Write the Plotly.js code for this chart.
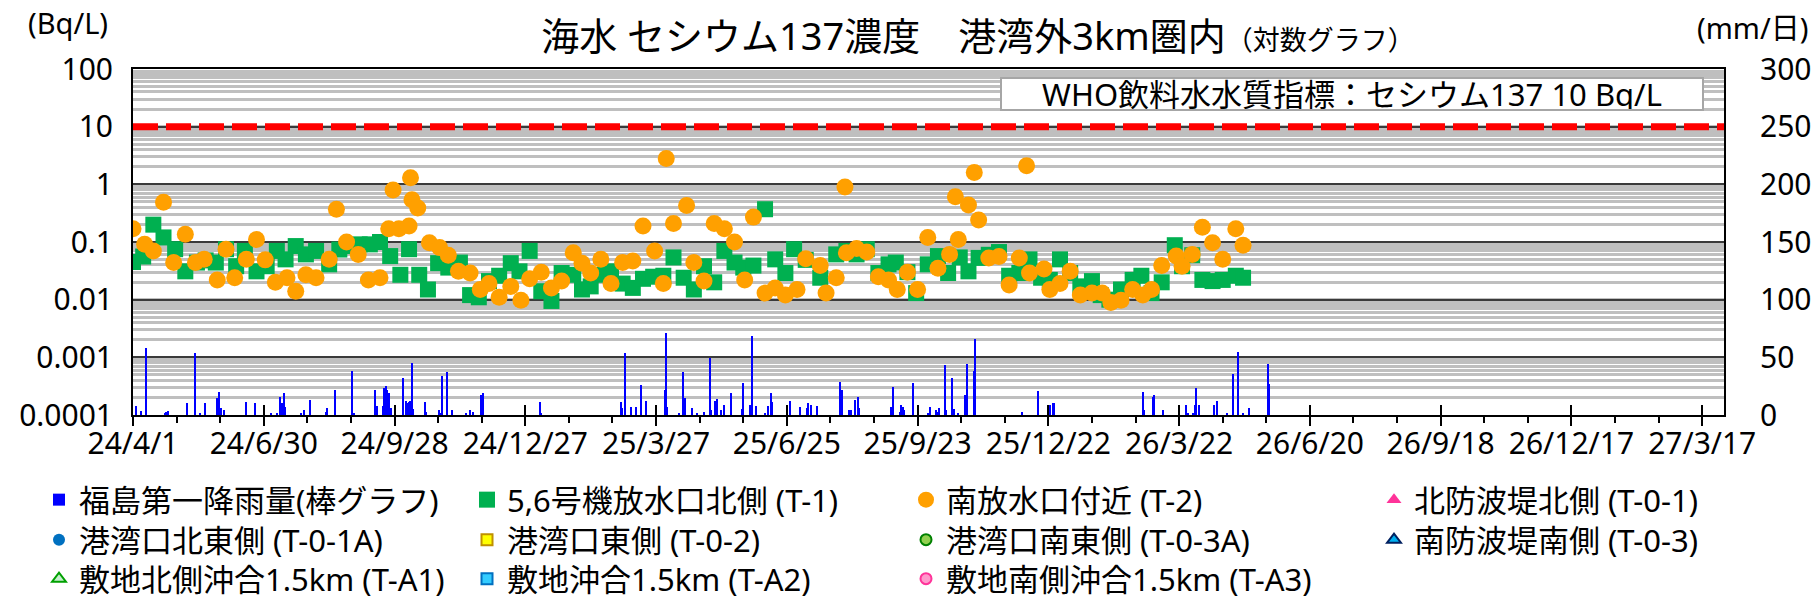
<!DOCTYPE html>
<html>
<head>
<meta charset="utf-8">
<script src="https://cdn.plot.ly/plotly-3.0.1.min.js"></script>
<style>
html, body { margin: 0; padding: 0; background: #ffffff; }
#chart { width: 1817px; height: 606px; }
</style>
</head>
<body>
<div id="chart"></div>
<script>
// ---------------- data ----------------
const T1_DATES = [
 "2024-04-01","2024-04-08","2024-04-15","2024-04-22","2024-04-30","2024-05-07","2024-05-15","2024-05-21","2024-05-28",
 "2024-06-04","2024-06-11","2024-06-17","2024-06-25","2024-07-02","2024-07-09","2024-07-15","2024-07-22","2024-07-29",
 "2024-08-05","2024-08-14","2024-08-21","2024-08-28","2024-09-04","2024-09-11","2024-09-18","2024-09-25",
 "2024-10-02","2024-10-08","2024-10-15","2024-10-21","2024-10-28","2024-11-04","2024-11-12","2024-11-19","2024-11-25",
 "2024-12-02","2024-12-09","2024-12-17","2024-12-23","2024-12-30",
 "2025-01-07","2025-01-14","2025-01-21","2025-01-29","2025-02-04","2025-02-10","2025-02-17","2025-02-24",
 "2025-03-04","2025-03-11","2025-03-18","2025-03-25","2025-04-01","2025-04-08","2025-04-15","2025-04-22","2025-04-29",
 "2025-05-06","2025-05-13","2025-05-20","2025-05-26","2025-06-02","2025-06-10","2025-06-17","2025-06-24","2025-06-30",
 "2025-07-08","2025-07-18","2025-07-29","2025-08-05","2025-08-12","2025-08-19","2025-08-27",
 "2025-09-03","2025-09-08","2025-09-16","2025-09-22","2025-09-30","2025-10-07","2025-10-14","2025-10-22","2025-10-28",
 "2025-11-04","2025-11-11","2025-11-18","2025-11-25","2025-12-02","2025-12-09","2025-12-17","2025-12-23","2025-12-30",
 "2026-01-06","2026-01-13","2026-01-21","2026-01-27","2026-02-02","2026-02-10","2026-02-18","2026-02-24",
 "2026-03-03","2026-03-10","2026-03-19","2026-03-24","2026-03-31","2026-04-07","2026-04-14","2026-04-21","2026-04-30","2026-05-05"
];
const T1_VALUES = [
 0.045,0.056,0.20,0.12,0.075,0.031,0.044,0.048,0.044,
 0.075,0.038,0.070,0.031,0.038,0.070,0.050,0.085,0.061,
 0.070,0.041,0.074,0.085,0.091,0.091,0.10,0.057,
 0.027,0.075,0.027,0.015,0.043,0.036,0.044,0.012,0.011,
 0.021,0.026,0.043,0.031,0.070,
 0.014,0.0095,0.029,0.027,0.015,0.017,0.027,0.031,
 0.019,0.016,0.023,0.025,0.026,0.054,0.024,0.015,0.038,
 0.020,0.070,0.044,0.036,0.039,0.37,0.050,0.029,0.075,
 0.049,0.024,0.061,0.070,0.061,0.075,0.029,
 0.041,0.044,0.030,0.013,0.041,0.057,0.029,0.054,0.031,
 0.053,0.060,0.067,0.026,0.029,0.050,0.024,0.022,0.050,
 0.029,0.017,0.021,0.012,0.010,0.015,0.022,0.026,
 0.013,0.020,0.088,0.038,0.059,0.022,0.021,0.022,0.026,0.024
];

const T2_DATES = [
 "2024-04-01","2024-04-09","2024-04-15","2024-04-22","2024-04-29","2024-05-07","2024-05-14","2024-05-20","2024-05-29",
 "2024-06-04","2024-06-10","2024-06-18","2024-06-25","2024-07-01","2024-07-08","2024-07-16","2024-07-22","2024-07-29",
 "2024-08-05","2024-08-14","2024-08-19","2024-08-26","2024-09-03","2024-09-10","2024-09-18","2024-09-24","2024-09-27",
 "2024-10-01","2024-10-08","2024-10-09","2024-10-10","2024-10-14","2024-10-22","2024-10-29","2024-11-04","2024-11-11",
 "2024-11-19","2024-11-26","2024-12-02","2024-12-09","2024-12-17","2024-12-24","2024-12-30",
 "2025-01-07","2025-01-14","2025-01-21","2025-01-29","2025-02-04","2025-02-10","2025-02-17","2025-02-24",
 "2025-03-04","2025-03-11","2025-03-18","2025-03-26","2025-04-01","2025-04-03","2025-04-08","2025-04-17","2025-04-22",
 "2025-04-29","2025-05-06","2025-05-13","2025-05-20","2025-05-27","2025-06-02","2025-06-10","2025-06-17","2025-06-24",
 "2025-07-02","2025-07-08","2025-07-18","2025-07-22","2025-07-29","2025-08-04","2025-08-05","2025-08-12","2025-08-19",
 "2025-08-27","2025-09-03","2025-09-09","2025-09-16","2025-09-23","2025-09-30","2025-10-07","2025-10-15","2025-10-19",
 "2025-10-21","2025-10-28","2025-11-01","2025-11-04","2025-11-11","2025-11-18","2025-11-25","2025-12-02","2025-12-07",
 "2025-12-09","2025-12-19","2025-12-23","2025-12-30","2026-01-06","2026-01-13","2026-01-21","2026-01-28","2026-02-03",
 "2026-02-10","2026-02-18","2026-02-25","2026-03-03","2026-03-10","2026-03-20","2026-03-24","2026-03-31",
 "2026-04-07","2026-04-14","2026-04-21","2026-04-30","2026-05-05"
];
const T2_VALUES = [
 0.17,0.091,0.070,0.49,0.044,0.136,0.044,0.050,0.022,
 0.075,0.024,0.050,0.11,0.049,0.020,0.024,0.014,0.027,
 0.024,0.050,0.37,0.10,0.061,0.022,0.024,0.17,0.80,
 0.17,0.19,1.3,0.54,0.39,0.097,0.080,0.059,0.031,
 0.029,0.015,0.019,0.011,0.017,0.0098,0.023,
 0.030,0.016,0.021,0.065,0.043,0.029,0.050,0.019,
 0.044,0.047,0.19,0.070,0.019,2.8,0.21,0.43,0.044,
 0.021,0.21,0.17,0.10,0.022,0.27,0.013,0.016,0.012,
 0.015,0.051,0.039,0.013,0.024,0.90,0.065,0.077,0.067,
 0.025,0.022,0.015,0.030,0.015,0.12,0.035,0.061,0.61,
 0.11,0.44,1.6,0.24,0.053,0.056,0.018,0.053,2.1,
 0.029,0.034,0.015,0.019,0.031,0.012,0.013,0.013,0.0089,
 0.0098,0.015,0.012,0.015,0.039,0.057,0.038,0.061,
 0.18,0.097,0.050,0.17,0.088
];

const RAIN_DATES = [
 "2024-04-03","2024-04-07","2024-04-10","2024-04-23","2024-04-24","2024-04-25","2024-05-08","2024-05-14","2024-05-17",
 "2024-05-21","2024-05-29","2024-05-30","2024-06-01","2024-06-03","2024-06-18","2024-06-24","2024-06-30","2024-07-05",
 "2024-07-09","2024-07-11","2024-07-13","2024-07-14","2024-07-15","2024-07-26","2024-07-28","2024-08-01","2024-08-12",
 "2024-08-13","2024-08-18","2024-08-30","2024-08-31","2024-09-15","2024-09-16","2024-09-20","2024-09-21","2024-09-22",
 "2024-09-23","2024-09-24","2024-09-25","2024-09-26","2024-10-04","2024-10-06","2024-10-07","2024-10-08","2024-10-09",
 "2024-10-10","2024-10-11","2024-10-19","2024-10-20","2024-10-29","2024-10-30","2024-10-31","2024-11-03","2024-11-07",
 "2024-11-16","2024-11-19","2024-11-21","2024-11-27","2024-11-28","2025-01-06","2025-01-07","2025-03-03","2025-03-04",
 "2025-03-06","2025-03-10","2025-03-13","2025-03-17","2025-03-20","2025-04-02","2025-04-03","2025-04-04","2025-04-12",
 "2025-04-15","2025-04-16","2025-04-21","2025-04-24","2025-04-29","2025-05-03","2025-05-04","2025-05-07","2025-05-08",
 "2025-05-11","2025-05-13","2025-05-18","2025-05-25","2025-05-26","2025-05-31","2025-06-01","2025-06-04","2025-06-10",
 "2025-06-12","2025-06-14","2025-06-15","2025-06-25","2025-06-27","2025-07-04","2025-07-09","2025-07-10","2025-07-12",
 "2025-07-16","2025-08-01","2025-08-02","2025-08-07","2025-08-08","2025-08-11","2025-08-13","2025-08-14","2025-09-05",
 "2025-09-06","2025-09-11","2025-09-12","2025-09-13","2025-09-14","2025-09-20","2025-09-30","2025-10-02","2025-10-06",
 "2025-10-07","2025-10-08","2025-10-12","2025-10-13","2025-10-17","2025-10-18","2025-10-21","2025-10-26","2025-10-27",
 "2025-11-01","2025-11-02","2025-12-04","2025-12-15","2025-12-22","2025-12-23","2025-12-25","2025-12-26","2026-02-25",
 "2026-02-26","2026-03-04","2026-03-05","2026-03-11","2026-03-27","2026-03-28","2026-04-01","2026-04-02","2026-04-03",
 "2026-04-05","2026-04-15","2026-04-17","2026-04-24","2026-04-28","2026-05-02","2026-05-05","2026-05-09","2026-05-22",
 "2026-05-23"
];
const RAIN_MM = [
 7.8,3.8,58,1.4,2.9,3.8,10,54,1.4,
 10,14.5,20,5.8,4.3,11.6,10,1.4,1.4,
 1.4,15.3,10,19,7.2,2,4.3,13,2.9,
 5.8,22,38,1.4,22,7.8,7.8,23,25,
 22,19,5.8,5.8,32,12.4,10,11.6,12.4,
 45,5,11.6,2.9,4.3,1.4,34,37,4.3,
 1.4,4.3,2.9,17,19,11.6,1.4,11.6,5.8,
 54,6.6,6.6,26,12.4,22,71,6.6,1.4,
 37,15,5.8,1.4,2.9,49,4.3,12.4,13.6,
 4.3,8.7,19,4.9,27.5,8.7,68.5,7.8,1.4,
 7.8,19,11.6,1.4,12.4,7.2,5.8,10,8.7,
 7.8,29,22,4.3,4.3,13,15.3,5.8,7.2,
 24,2.9,8.7,7.2,4.3,27.5,1.4,6.6,4.3,
 2.9,5.8,43,4.3,32,5,1.4,17,44,
 38,66,2.9,21,1.4,8.7,10,10,20,
 4.3,15.3,17,4.3,8.7,1.4,1.4,8.7,23,
 8.7,8.7,12.4,1.4,35.5,55,1.4,5.8,44,
 27
];

const WHO_LIMIT = 10;                       // Bq/L
const X_RANGE = ["2024-04-01", "2027-04-01"];
const Y_TICK_VALUES = [0.0001, 0.001, 0.01, 0.1, 1, 10, 100];
const Y_TICK_TEXT = ["0.0001", "0.001", "0.01", "0.1", "1", "10", "100"];
const Y2_TICK_VALUES = [0, 50, 100, 150, 200, 250, 300];

const SERIES_NAMES = {
  rain: "福島第一降雨量(棒グラフ)",
  t1: "5,6号機放水口北側 (T-1)",
  t2: "南放水口付近 (T-2)",
  t01: "北防波堤北側 (T-0-1)",
  t01a: "港湾口北東側 (T-0-1A)",
  t02: "港湾口東側 (T-0-2)",
  t03a: "港湾口南東側 (T-0-3A)",
  t03: "南防波堤南側 (T-0-3)",
  ta1: "敷地北側沖合1.5km (T-A1)",
  ta2: "敷地沖合1.5km (T-A2)",
  ta3: "敷地南側沖合1.5km (T-A3)"
};

// ---------------- chart ----------------
const FONT = '"Noto Sans", "Noto Sans CJK JP", sans-serif';
const DAY = 86400000;
const W = 1817, H = 606;
const M = { l: 133, r: 93, t: 69, b: 191, autoexpand: false };
const PW = W - M.l - M.r, PH = H - M.t - M.b;
const px2x = p => (p - M.l) / PW;
const px2y = p => (H - M.b - p) / PH;

// legend grid: 4 columns x 3 rows (marker centre x, row bottom y in pixels)
const LEG_COLS = [59, 487, 926, 1394];
const LEG_ROW_BOTTOMS = [527, 567, 606];

// series that have no measurement in the period: a single empty (null) sample keeps their legend entry
function emptySeries(name, legend, marker) {
  return { type: 'scatter', mode: 'markers', name: name, x: [null], y: [null], legend: legend, marker: marker, hoverinfo: 'skip' };
}

const traces = [
  { type: 'bar', name: SERIES_NAMES.rain, x: RAIN_DATES, y: RAIN_MM, yaxis: 'y2', width: DAY,
    marker: { color: '#0000ff', line: { width: 0 } }, legend: 'legend' },
  { type: 'scatter', mode: 'markers', name: SERIES_NAMES.t1, x: T1_DATES, y: T1_VALUES, legend: 'legend2',
    marker: { symbol: 'square', size: 16, color: '#00b050', line: { width: 0 } } },
  { type: 'scatter', mode: 'markers', name: SERIES_NAMES.t2, x: T2_DATES, y: T2_VALUES, legend: 'legend3',
    marker: { symbol: 'circle', size: 17, color: '#ffa000', line: { width: 0 } } },
  emptySeries(SERIES_NAMES.t01, 'legend4', { symbol: 'triangle-up', size: 13, color: '#ff3399', line: { width: 0 } }),
  emptySeries(SERIES_NAMES.t01a, 'legend5', { symbol: 'circle', size: 12, color: '#0070c0', line: { width: 0 } }),
  emptySeries(SERIES_NAMES.t02, 'legend6', { symbol: 'square', size: 11, color: '#ffff00', line: { width: 2, color: '#bf9000' } }),
  emptySeries(SERIES_NAMES.t03a, 'legend7', { symbol: 'circle', size: 11, color: '#92d050', line: { width: 2, color: '#008000' } }),
  emptySeries(SERIES_NAMES.t03, 'legend8', { symbol: 'triangle-up', size: 12, color: '#00b0f0', line: { width: 2, color: '#002060' } }),
  emptySeries(SERIES_NAMES.ta1, 'legend9', { symbol: 'triangle-up', size: 12, color: '#c6efce', line: { width: 2, color: '#00a000' } }),
  emptySeries(SERIES_NAMES.ta2, 'legend10', { symbol: 'square', size: 11, color: '#33ccff', line: { width: 2, color: '#0070c0' } }),
  emptySeries(SERIES_NAMES.ta3, 'legend11', { symbol: 'circle', size: 11, color: '#ff99cc', line: { width: 2, color: '#ff3399' } }),
  // carries the lower halves of the date ticks and the minor ticks (no visible mark)
  { type: 'scatter', mode: 'markers', x: [null], y: [null], xaxis: 'x2', showlegend: false, hoverinfo: 'skip' }
];

function legendAt(col, row) {
  return {
    x: px2x(LEG_COLS[col] - 20), xanchor: 'left',
    y: px2y(LEG_ROW_BOTTOMS[row]), yanchor: 'bottom',
    orientation: 'v', bgcolor: 'rgba(0,0,0,0)', borderwidth: 0,
    font: { family: FONT, size: 31, color: '#000' },
    itemclick: false, itemdoubleclick: false, tracegroupgap: 0
  };
}

const layout = {
  width: W, height: H, margin: M,
  paper_bgcolor: '#ffffff', plot_bgcolor: '#ffffff',
  font: { family: FONT, size: 30, color: '#000000' },
  showlegend: true,
  bargap: 0,
  title: {
    text: '海水 セシウム137濃度　港湾外3km圏内<span style="font-size:27px">（対数グラフ）</span>',
    x: 978 / W, xanchor: 'center', xref: 'container',
    y: 1 - 37 / H, yanchor: 'middle', yref: 'container',
    font: { family: FONT, size: 38, color: '#000' }
  },
  xaxis: {
    type: 'date', range: X_RANGE, tick0: X_RANGE[0], dtick: 90 * DAY,
    tickformat: '%y/%-m/%-d', ticks: 'inside', ticklen: 10, tickwidth: 2, tickcolor: '#000',
    showline: true, linecolor: '#000', linewidth: 2, mirror: true,
    showgrid: false, zeroline: false, ticklabelstandoff: 1,
    tickfont: { family: FONT, size: 30 }
  },
  xaxis2: {
    type: 'date', overlaying: 'x', anchor: 'y', side: 'bottom', range: X_RANGE, tick0: X_RANGE[0], dtick: 90 * DAY,
    ticks: 'outside', ticklen: 10, tickwidth: 2, tickcolor: '#000', showticklabels: false,
    minor: { tick0: X_RANGE[0], dtick: 30 * DAY, ticks: 'outside', ticklen: 7, tickwidth: 2, tickcolor: '#000', showgrid: false },
    showline: false, showgrid: false, zeroline: false
  },
  yaxis: {
    type: 'log', range: [-4, 2], tickmode: 'array', tickvals: Y_TICK_VALUES, ticktext: Y_TICK_TEXT,
    showgrid: true, gridcolor: '#3a3a3a', gridwidth: 1.6,
    minor: { dtick: 'D1', showgrid: true, gridcolor: '#bfbfbf', gridwidth: 2.5, ticks: '' },
    showline: true, linecolor: '#000', linewidth: 2, mirror: true,
    ticks: '', zeroline: false, ticklabelstandoff: 12,
    tickfont: { family: FONT, size: 30 }
  },
  yaxis2: {
    overlaying: 'y', side: 'right', range: [0, 300], tickmode: 'array', tickvals: Y2_TICK_VALUES,
    showgrid: false, zeroline: false, showline: false, ticks: '', ticklabelstandoff: 35,
    tickfont: { family: FONT, size: 30 }
  },
  shapes: [
    { type: 'line', xref: 'paper', x0: 0, x1: 1, yref: 'y', y0: WHO_LIMIT, y1: WHO_LIMIT,
      line: { color: '#ff0000', width: 7, dash: '25px,8px' }, layer: 'above' }
  ],
  annotations: [
    { xref: 'paper', yref: 'paper', x: px2x(1352), y: px2y(94.5), xanchor: 'center', yanchor: 'middle',
      text: 'WHO飲料水水質指標：セシウム137 10 Bq/L', showarrow: false,
      width: 700, height: 30, borderpad: 0, borderwidth: 2, bordercolor: '#a6a6a6', bgcolor: '#ffffff',
      align: 'center', font: { family: FONT, size: 31, color: '#000' } },
    { xref: 'paper', yref: 'paper', x: px2x(68), y: px2y(23), xanchor: 'center', yanchor: 'middle',
      text: '(Bq/L)', showarrow: false, font: { family: FONT, size: 29, color: '#000' } },
    { xref: 'paper', yref: 'paper', x: px2x(1752), y: px2y(28), xanchor: 'center', yanchor: 'middle',
      text: '(mm/日)', showarrow: false, font: { family: FONT, size: 29, color: '#000' } }
  ],
  legend: legendAt(0, 0),
  legend2: legendAt(1, 0),
  legend3: legendAt(2, 0),
  legend4: legendAt(3, 0),
  legend5: legendAt(0, 1),
  legend6: legendAt(1, 1),
  legend7: legendAt(2, 1),
  legend8: legendAt(3, 1),
  legend9: legendAt(0, 2),
  legend10: legendAt(1, 2),
  legend11: legendAt(2, 2)
};

Plotly.newPlot('chart', traces, layout, { displayModeBar: false, responsive: false });
</script>
</body>
</html>
